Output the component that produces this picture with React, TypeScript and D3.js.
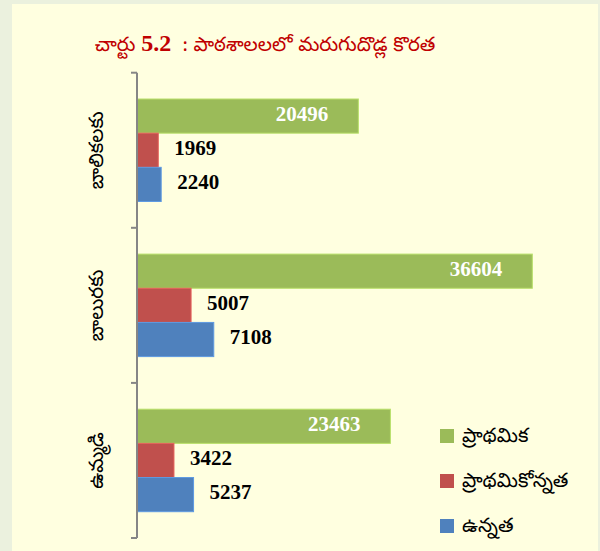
import React from "react";
import * as d3 from "d3";

const categories = ["బాలికలకు", "బాలురకు", "ఉమ్మడి"];
const seriesNames = ["ప్రాథమిక", "ప్రాథమికోన్నత", "ఉన్నత"];
const primary = [20496, 36604, 23463];
const upperPrimary = [1969, 5007, 3422];
const high = [2240, 7108, 5237];
const seriesColors = ["#9BBB59", "#C0504D", "#4F81BD"];
const titleText = "చార్టు 5.2  : పాఠశాలలలో మరుగుదొడ్ల కొరత";

const W = 600;
const H = 551;
const teluguFont = "'Noto Sans Telugu', Gautami, 'Noto Sans', sans-serif";
const numFont = "'Liberation Serif', 'Times New Roman', serif";

export default function App() {
  const seriesValues = [primary, upperPrimary, high];
  const axisX = 137;
  const x = d3.scaleLinear().domain([0, 40000]).range([axisX, axisX + 432]);
  const y = d3.scaleBand<string>().domain(categories).range([72.7, 538]).padding(0);
  const inner = d3
    .scaleBand<string>()
    .domain(seriesNames)
    .range([26.3, y.bandwidth() - 26.3])
    .padding(0);

  const ticks = [72.7, ...categories.map((c) => (y(c) as number) + y.bandwidth())];

  return (
    <svg
      width={W}
      height={H}
      style={{ position: "absolute", left: 0, top: 0, display: "block" }}
    >
      <rect x={0} y={0} width={W} height={H} fill="#EBF1DE" />
      <rect x={12} y={4} width={586} height={H - 4} fill="#FFFFE0" />
      <text
        x={265}
        y={51}
        textAnchor="middle"
        fill="#C00000"
        fontSize={20}
        fontFamily={teluguFont}
        style={{ whiteSpace: "pre" }}
      >
        {titleText.split(/(5\.2)/).map((part, i) =>
          part === "5.2" ? (
            <tspan key={i} fontFamily={numFont} fontWeight="bold" fontSize={24}>
              {part}
            </tspan>
          ) : (
            <tspan key={i}>{part}</tspan>
          )
        )}
      </text>

      {categories.map((cat, ci) => {
        const y0 = y(cat) as number;
        return (
          <g key={cat}>
            {seriesNames.map((s, si) => {
              const v = seriesValues[si][ci];
              const by = y0 + (inner(s) as number);
              const bh = inner.bandwidth();
              const xe = x(v);
              return (
                <g key={s}>
                  <rect
                    x={x(0)}
                    y={by}
                    width={xe - x(0)}
                    height={bh}
                    fill={seriesColors[si]}
                    stroke={d3.color(seriesColors[si])!.brighter(0.5).formatHex()}
                    strokeWidth={1}
                  />
                  {si === 0 ? (
                    <text
                      x={xe - 30}
                      y={by + bh / 2 + 4.5}
                      textAnchor="end"
                      fill="#FFFFFF"
                      fontFamily={numFont}
                      fontWeight="bold"
                      fontSize={21}
                    >
                      {v}
                    </text>
                  ) : (
                    <text
                      x={xe + 16}
                      y={by + bh / 2 + 4.5}
                      textAnchor="start"
                      fill="#000000"
                      fontFamily={numFont}
                      fontWeight="bold"
                      fontSize={21}
                    >
                      {v}
                    </text>
                  )}
                </g>
              );
            })}
            <text
              transform={`translate(${103},${y0 + y.bandwidth() / 2}) rotate(-90)`}
              textAnchor="middle"
              fill="#000"
              fontSize={20}
              fontFamily={teluguFont}
            >
              {cat}
            </text>
          </g>
        );
      })}

      <line x1={axisX} x2={axisX} y1={72.7} y2={538} stroke="#868686" strokeWidth={2} />
      {ticks.map((t, i) => (
        <line key={i} x1={131} x2={axisX} y1={t} y2={t} stroke="#868686" strokeWidth={2} />
      ))}

      {seriesNames.map((s, i) => (
        <g key={s} transform={`translate(440,${429 + i * 45})`}>
          <rect x={0} y={0} width={14} height={14} fill={seriesColors[i]} />
          <text x={22} y={13} fill="#000" fontSize={20} fontFamily={teluguFont}>
            {s}
          </text>
        </g>
      ))}
    </svg>
  );
}
